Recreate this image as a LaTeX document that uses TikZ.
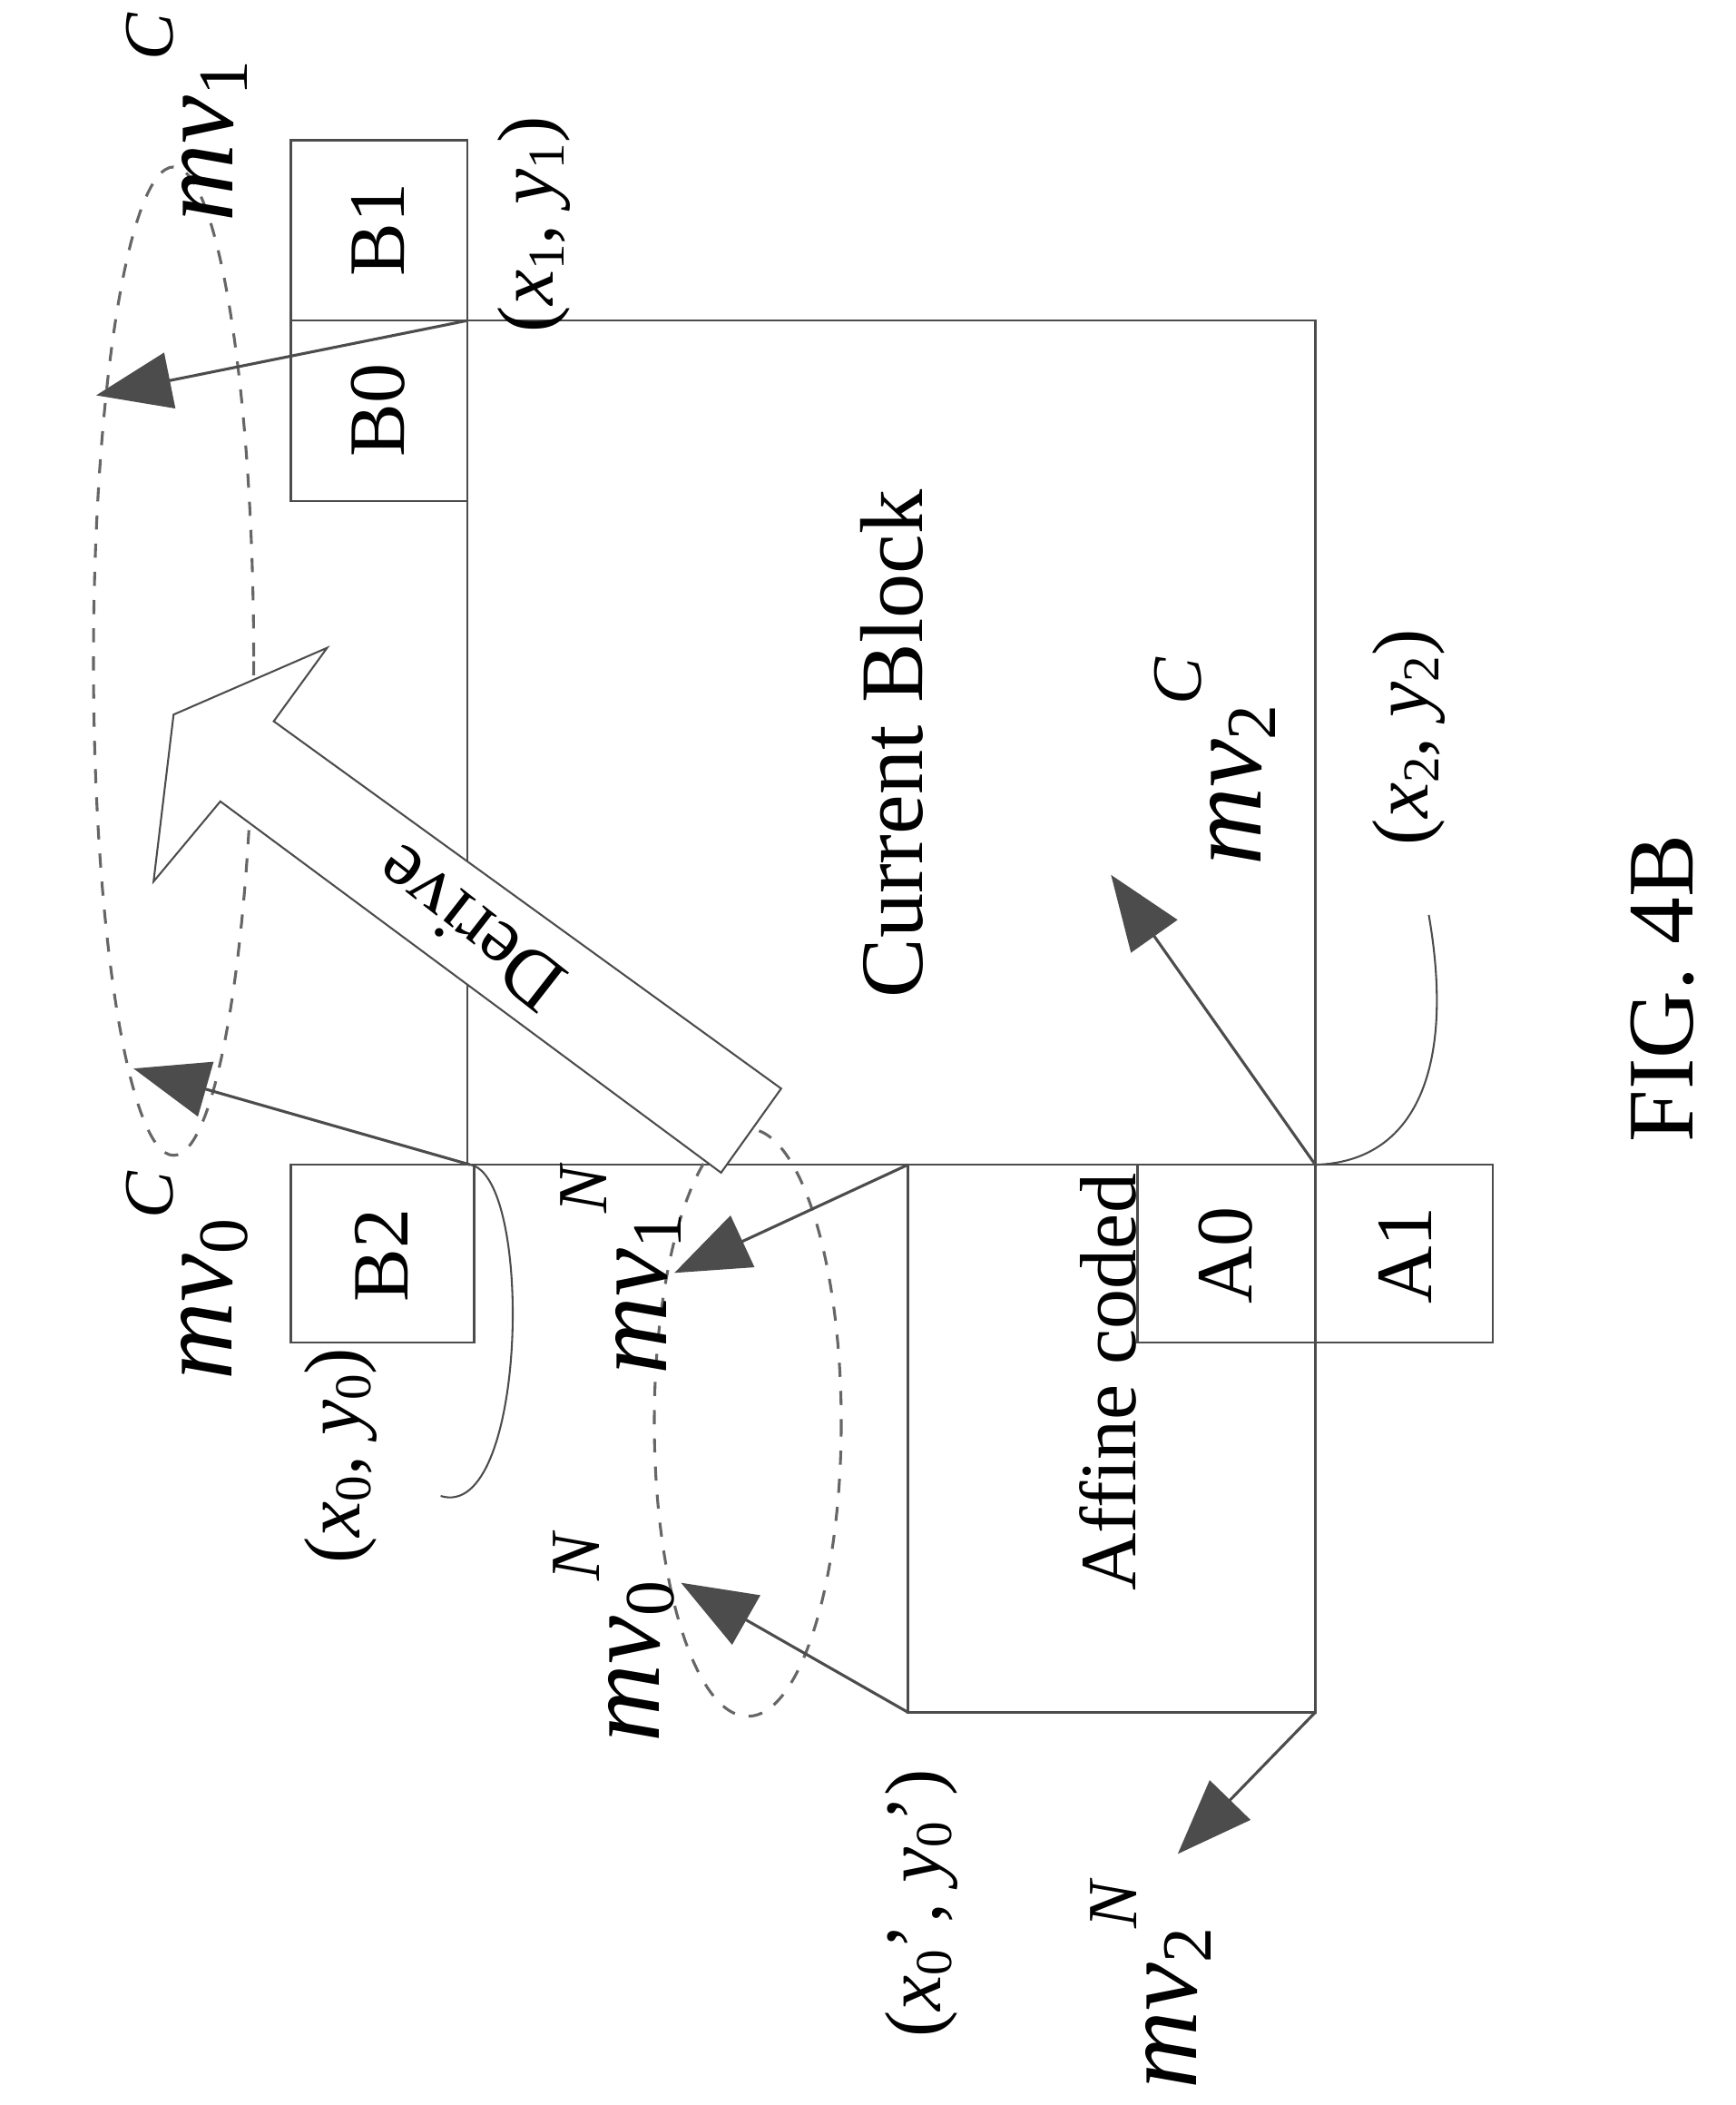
\documentclass[tikz,border=0pt]{standalone}
\usepackage{fontspec}
\setmainfont{Liberation Serif}
\usetikzlibrary{arrows.meta}
\newcommand{\mvl}[2]{\textit{mv}\raisebox{-0.3ex}{\fontsize{15}{16}\selectfont #1}\raisebox{1.2ex}{\fontsize{15}{16}\selectfont\textit{#2}}}
\newcommand{\xyl}[2]{(\textit{x}\raisebox{-0.3ex}{\fontsize{11}{12}\selectfont #1}, \textit{y}\raisebox{-0.3ex}{\fontsize{11}{12}\selectfont #1}#2)}
\begin{document}
\begin{tikzpicture}[x=0.01cm,y=-0.01cm,
 box/.style={draw=black!70,line width=0.5pt},
 arr/.style={draw=black!70,line width=0.6pt,-{Triangle[length=16pt,width=12pt,fill=black!70]}},
 ell/.style={draw=black!60,dashed,line width=0.6pt},
 lbl/.style={rotate=90,font=\fontsize{17}{19}\selectfont},
 mv/.style={rotate=90,font=\fontsize{23}{25}\selectfont},
 co/.style={rotate=90,font=\fontsize{17}{19}\selectfont}]
\useasboundingbox (0,0) rectangle (1300,1576);
% blocks
\draw[box] (350,240) rectangle (985,872);
\draw[box] (218,105) rectangle (350,240);
\draw[box] (218,240) rectangle (350,375);
\draw[box] (218,872) rectangle (355,1005);
\draw[box] (680,872) rectangle (985,1282);
\draw[box] (852,872) rectangle (985,1005);
\draw[box] (985,872) rectangle (1118,1005);
\node[lbl] (b1) at (283,172) {B1};
\node[lbl] (b0) at (283,307) {B0};
\node[lbl] (b2) at (286,940) {B2};
\node[lbl] (a0) at (918,940) {A0};
\node[lbl] (a1) at (1052,940) {A1};
\node[lbl,font=\fontsize{19}{21}\selectfont] (cb) at (668,557) {Current Block};
\node[lbl] (af) at (830,1035) {Affine coded};
% ellipses
\draw[ell] (130,495) ellipse [x radius=60,y radius=370];
\draw[ell] (560,1065) ellipse [x radius=70,y radius=220];
% corner coords
\coordinate (c1) at (350,240); \coordinate (c0) at (352,872);
\coordinate (c2) at (985,872); \coordinate (n0) at (680,872);
\coordinate (n1) at (680,1282); \coordinate (n2) at (985,1282);
\coordinate (t1) at (72,296); \coordinate (t0) at (100,800);
\coordinate (t2) at (832,655); \coordinate (t3) at (505,953);
\coordinate (t4) at (510,1185); \coordinate (t5) at (882,1388);
\draw[arr] (c1) -- (t1);
\draw[arr] (c0) -- (t0);
\draw[arr] (c2) -- (t2);
\draw[arr] (n0) -- (t3);
\draw[arr] (n1) -- (t4);
\draw[arr] (n2) -- (t5);
% leader curves
\draw[black!70] (c2) .. controls (1060,870) and (1090,800) .. (1070,685);
\draw[black!70] (c0) .. controls (400,880) and (395,1140) .. (330,1120);
% derive arrow
\draw[black!70,fill=white] (585,815) -- (205,540) -- (245,485) -- (130,535) -- (115,660) -- (165,600) -- (540,878) -- cycle;
\node[rotate=142,font=\fontsize{17}{19}\selectfont] (dv) at (352,695) {Derive};
% labels
\node[mv] (m1c) at (140,88) {\mvl{1}{C}};
\node[co] (xy1) at (400,168) {\xyl{1}{}};
\node[mv] (m0c) at (140,955) {\mvl{0}{C}};
\node[co] (xy0) at (255,1090) {\xyl{0}{}};
\node[mv] (m1n) at (465,950) {\mvl{1}{N}};
\node[mv] (m0n) at (460,1225) {\mvl{0}{N}};
\node[co] (xy0p) at (690,1425) {(\textit{x}\raisebox{-0.3ex}{\fontsize{11}{12}\selectfont 0}’, \textit{y}\raisebox{-0.3ex}{\fontsize{11}{12}\selectfont 0}’)};
\node[mv] (m2n) at (862,1485) {\mvl{2}{N}};
\node[mv] (m2c) at (910,570) {\mvl{2}{C}};
\node[co] (xy2) at (1055,552) {\xyl{2}{}};
\node[rotate=90,font=\fontsize{20}{22}\selectfont] (fig) at (1245,740) {FIG. 4B};
\end{tikzpicture}
\end{document}
